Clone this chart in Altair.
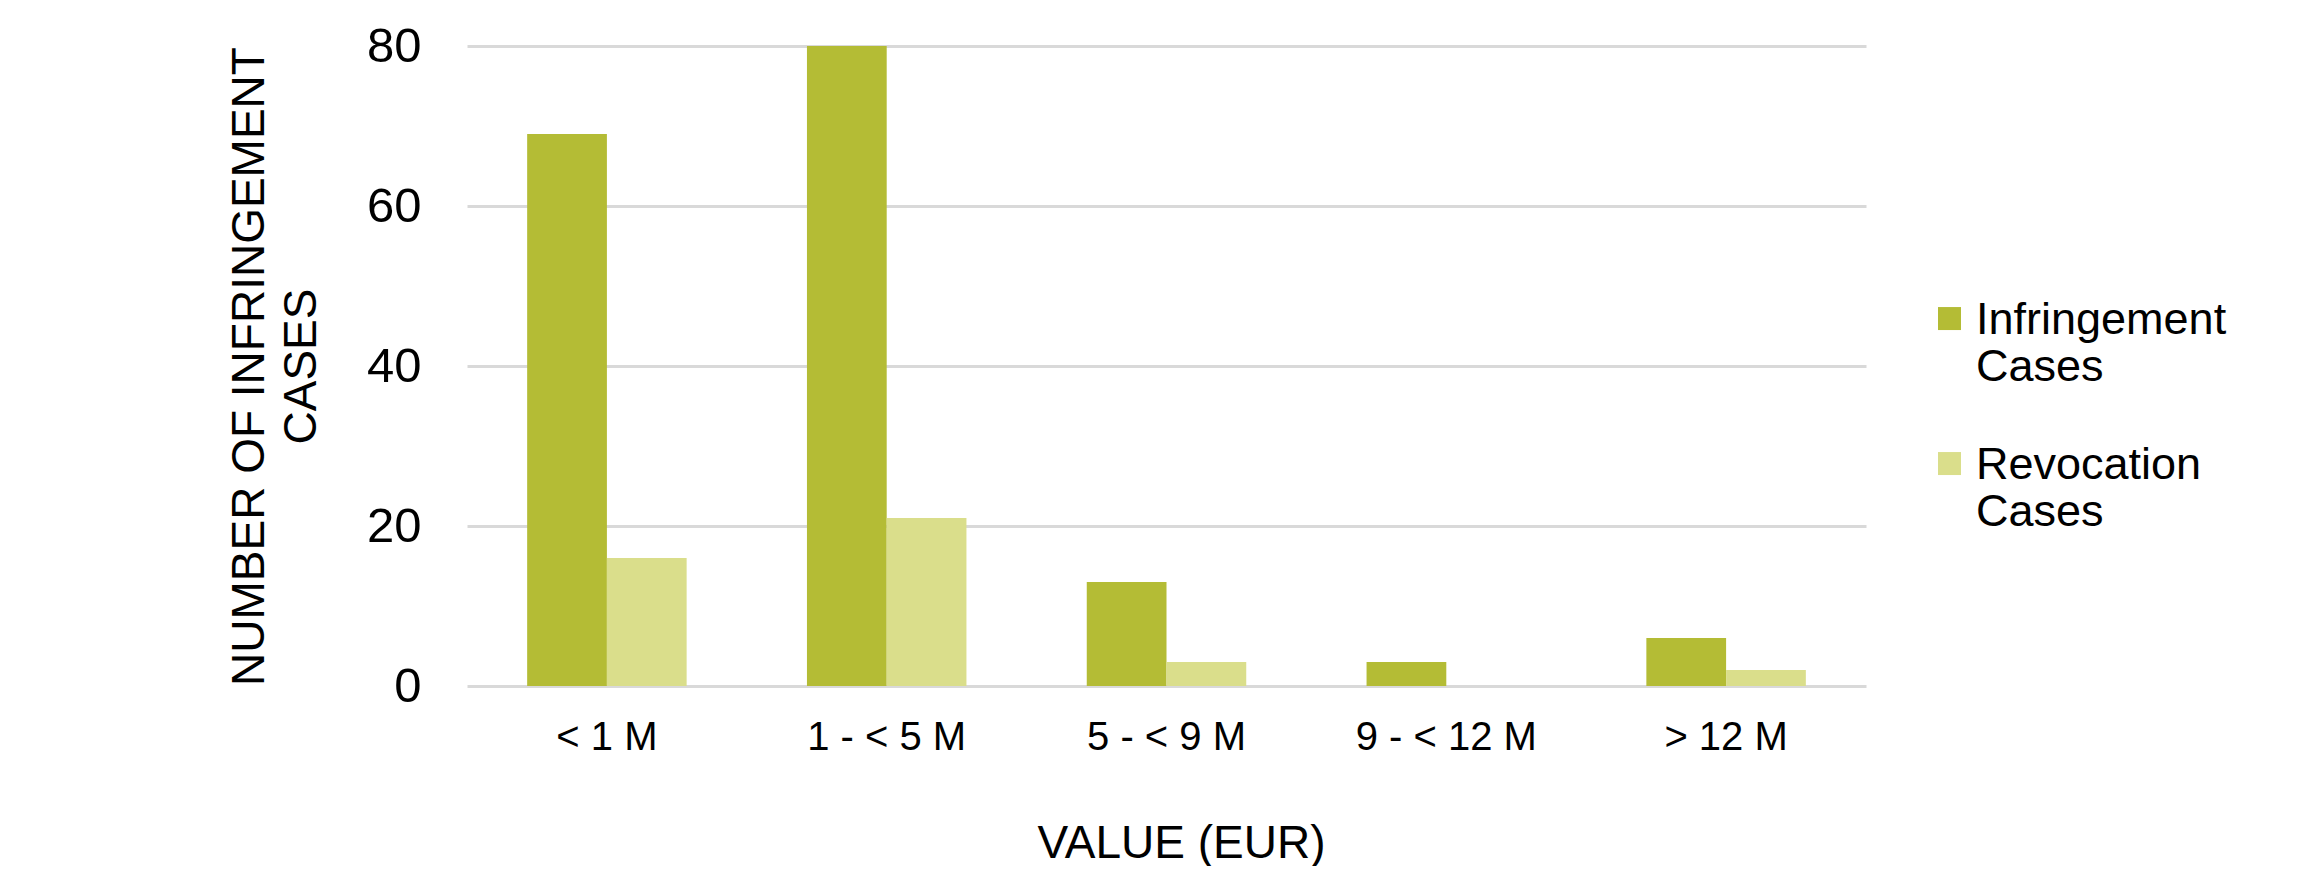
import altair as alt
import pandas as pd

categories = ["< 1 M", "1 - < 5 M", "5 - < 9 M", "9 - < 12 M", "> 12 M"]
series_names = ["Infringement Cases", "Revocation Cases"]
infringement = [69, 80, 13, 3, 6]
revocation = [16, 21, 3, 0, 2]
y_ticks = [0, 20, 40, 60, 80]
colors = ["#B4BC35", "#DADE8B"]

rows = []
for c, a, b in zip(categories, infringement, revocation):
    rows.append({"cat": c, "series": series_names[0], "value": a})
    rows.append({"cat": c, "series": series_names[1], "value": b})
df = pd.DataFrame(rows)

FONT = "Liberation Sans"

chart = alt.Chart(df).mark_bar().encode(
    x=alt.X("cat:N", sort=categories,
            scale=alt.Scale(paddingInner=0.43, paddingOuter=0.215),
            axis=alt.Axis(title="VALUE (EUR)", labelAngle=0, labelFontSize=40,
                          labelPadding=31, ticks=False, tickSize=0, domain=False,
                          labelLimit=600,
                          labelFont=FONT, labelColor="#000000",
                          titleFont=FONT, titleFontSize=46, titleFontWeight="normal",
                          titleColor="#000000", titleX=714, titleY=171,
                          titleAlign="center", titleBaseline="alphabetic")),
    xOffset=alt.XOffset("series:N", sort=series_names,
                        scale=alt.Scale(paddingInner=0, paddingOuter=0)),
    y=alt.Y("value:Q", scale=alt.Scale(domain=[0, 80], nice=False),
            axis=alt.Axis(values=y_ticks, title=["NUMBER OF INFRINGEMENT", "CASES"],
                          labelFontSize=49, labelPadding=46, labelFont=FONT,
                          labelColor="#000000", ticks=False, tickSize=0, domain=False,
                          grid=True, gridColor="#D9D9D9", gridWidth=3,
                          titleFont=FONT, titleFontSize=46, titleFontWeight="normal",
                          titleColor="#000000", titleAngle=270, titleX=-204, titleY=320,
                          titleAlign="center", titleBaseline="alphabetic",
                          titleLineHeight=52)),
    color=alt.Color("series:N", sort=series_names,
                    scale=alt.Scale(domain=series_names, range=colors),
                    legend=alt.Legend(title=None, orient="none", legendX=1460, legendY=265,
                                      labelFont=FONT, labelFontSize=45, labelColor="#000000",
                                      labelBaseline="alphabetic", labelOffset=4,
                                      labelLimit=600,
                                      labelExpr="split(datum.label, ' ')",
                                      symbolType="M-1,-2.3H1V-0.3H-1Z", symbolSize=529,
                                      symbolStrokeWidth=0, symbolOpacity=1,
                                      rowPadding=52, padding=0, offset=0)),
).properties(
    width=1399, height=640,
    padding={"left": 459, "top": 38, "right": 430, "bottom": 180},
    autosize="none",
).configure(font=FONT).configure_view(stroke=None, strokeWidth=0)

chart.save("out.html", embed_options={"renderer": "svg", "actions": False})
